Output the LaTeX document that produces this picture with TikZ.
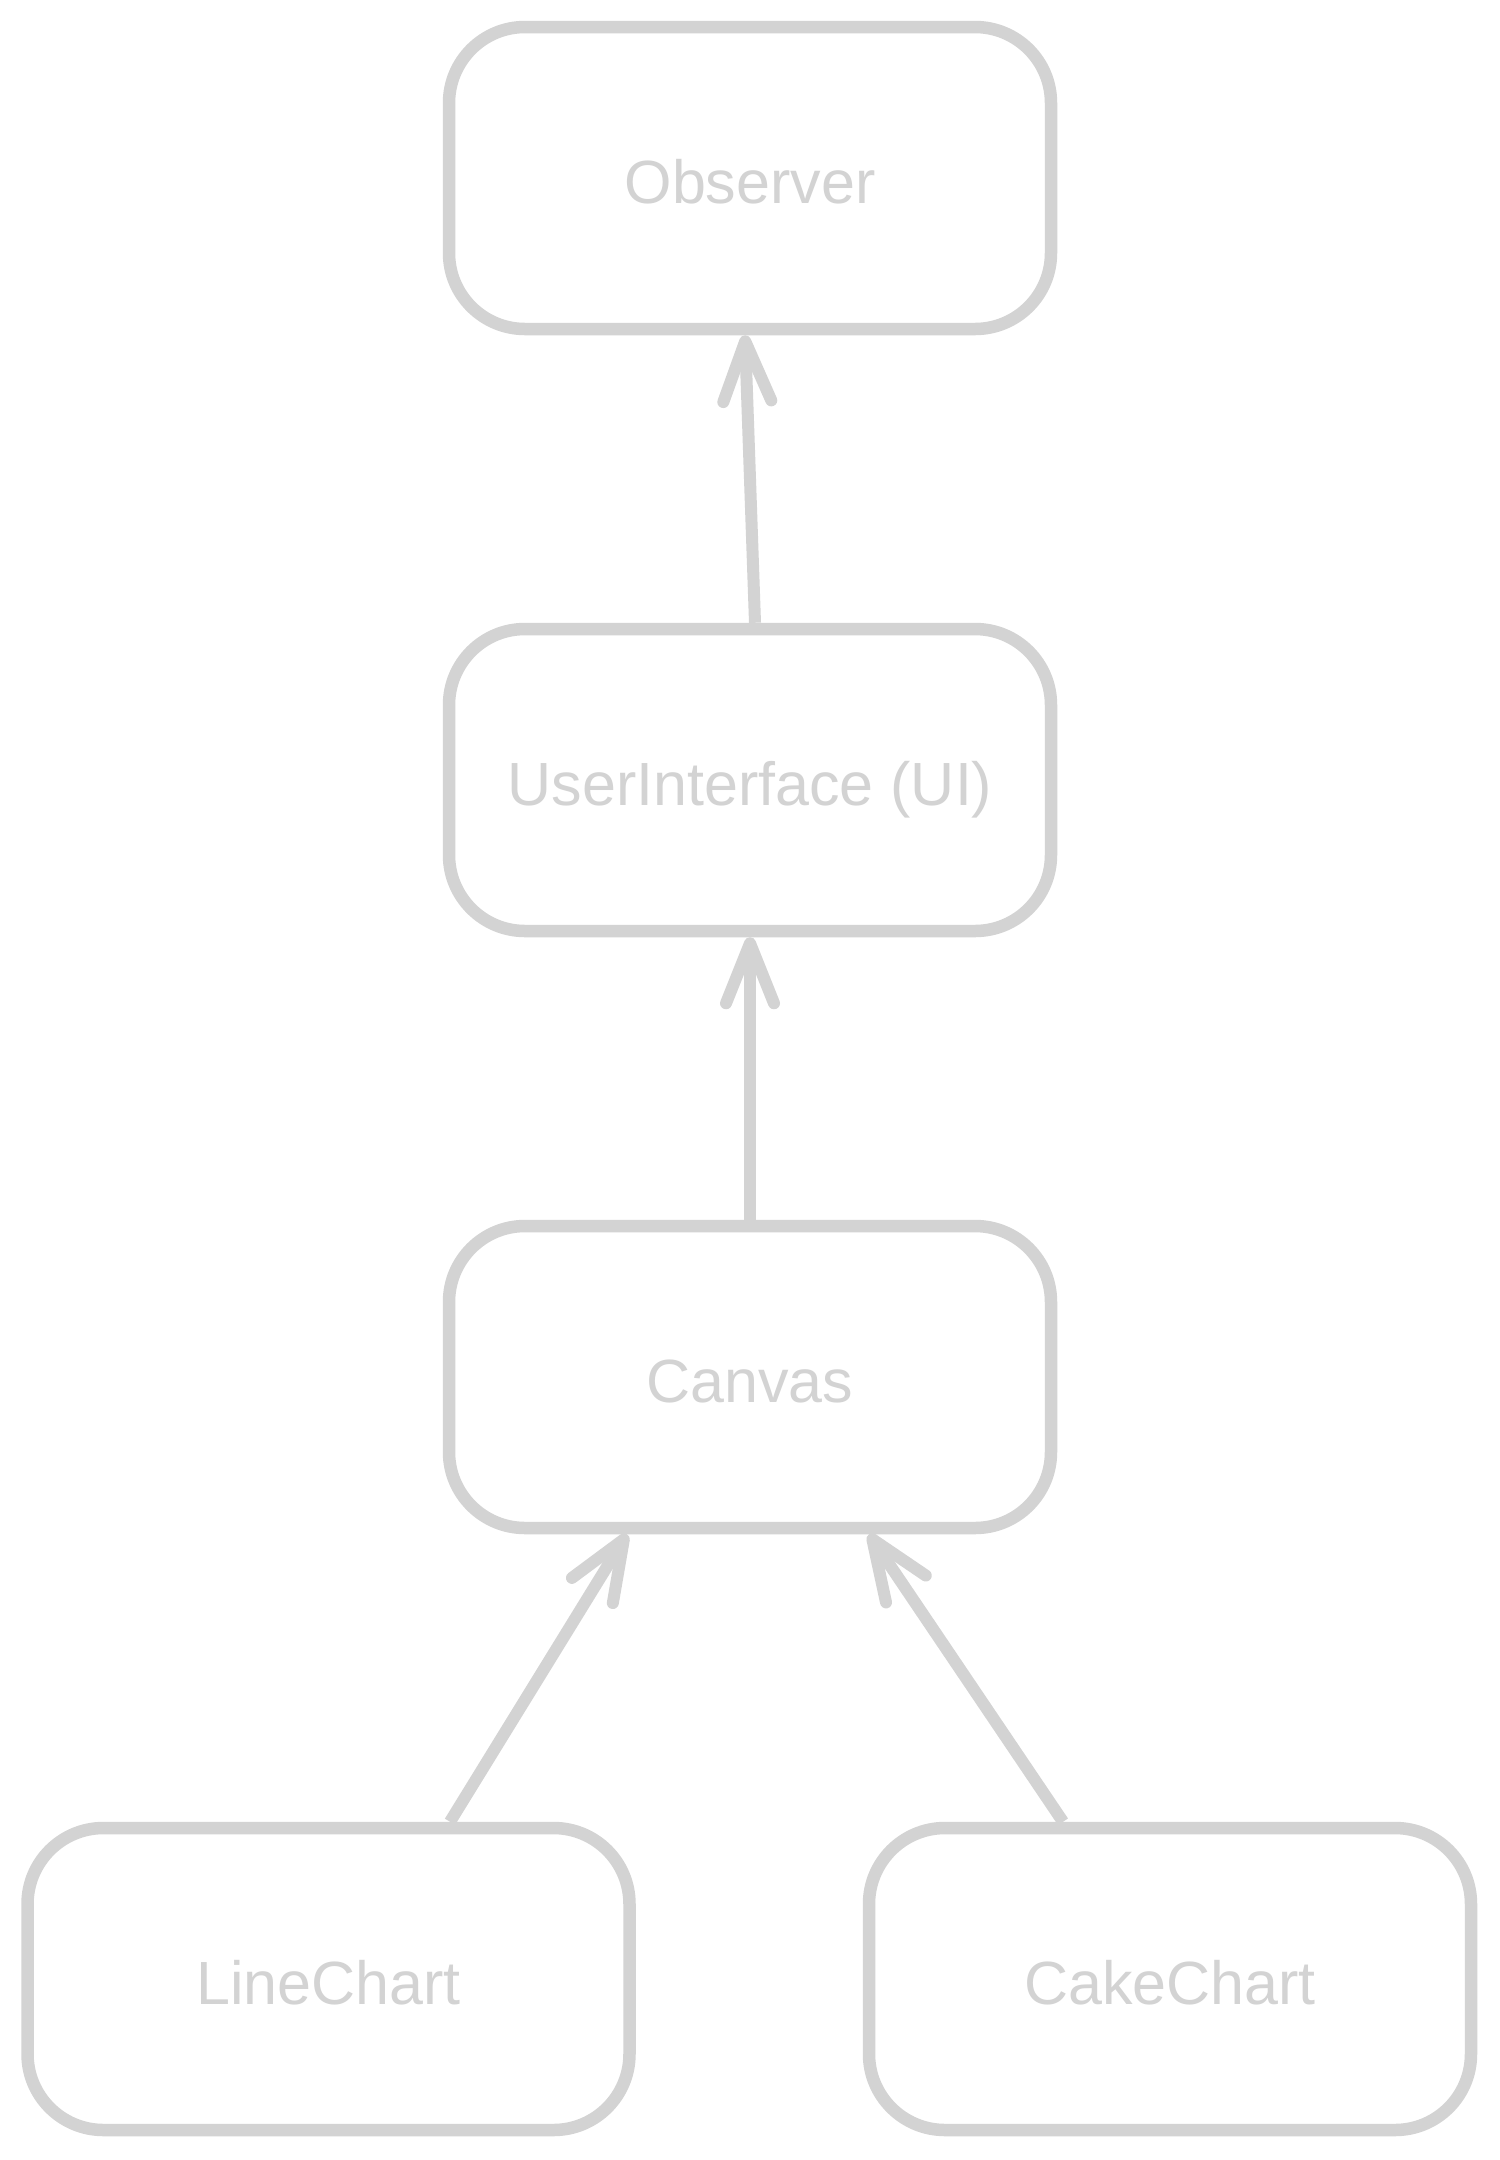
\documentclass[tikz,border=0pt]{standalone}
\usepackage{fontspec}
\setmainfont{Liberation Sans}
\usetikzlibrary{arrows.meta}
\definecolor{lg}{HTML}{D3D3D3}
\begin{document}
\begin{tikzpicture}[x=0.5pt,y=-0.5pt,
  box/.style={draw=lg,line width=6.25pt,rounded corners=38pt,minimum width=301pt,minimum height=151pt,inner sep=0pt,fill=white,text=lg,text height=25pt,text depth=0pt,font=\fontsize{30.5pt}{34pt}\selectfont},
  conn/.style={draw=lg,line width=6pt,-{Straight Barb[length=30pt,width=24pt,line cap=round,line join=round]}}]
\useasboundingbox[fill=white] (0,0) rectangle (1500,2160);
\node[box] (obs) at (750,178) {Observer};
\node[box] (ui) at (750,780) {UserInterface (UI)};
\node[box] (cv) at (750,1377) {Canvas};
\node[box] (lc) at (328.5,1979) {LineChart};
\node[box] (cc) at (1170,1979) {CakeChart};
\draw[conn] ([xshift=2.5pt]ui.north) -- ([xshift=-2.5pt]obs.south);
\draw[conn] (cv.north) -- (ui.south);
\draw[conn] ([xshift=60.75pt]lc.north) -- ([xshift=-61.5pt]cv.south);
\draw[conn] ([xshift=-53.5pt]cc.north) -- ([xshift=59.5pt]cv.south);
\end{tikzpicture}
\end{document}
